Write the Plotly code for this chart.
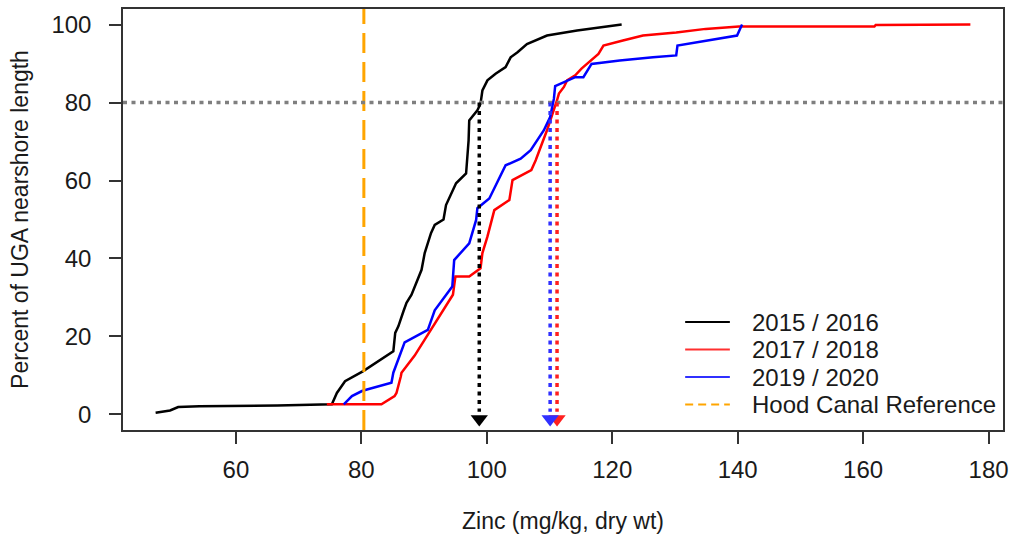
import plotly.graph_objects as go

# ---- data ----
x_1516 = [47.2, 49.5, 50.8, 54.2, 66.6, 75.3, 76.1, 77.4, 80.3, 81.6, 85.1, 85.4, 85.9, 86.7, 87.2,
          88.0, 88.8, 89.6, 90.1, 90.6, 91.1, 91.7, 93.1, 93.5, 95.1, 96.7, 97.1, 97.2, 98.5, 99.0,
          99.3, 100.1, 101.4, 103.0, 103.8, 104.9, 106.4, 109.6, 111.2, 113.3, 114.4, 121.5]
y_1516 = [0.4, 1.0, 1.9, 2.1, 2.3, 2.6, 5.5, 8.5, 11.1, 12.5, 16.2, 20.9, 22.6, 26.4, 28.6,
          30.7, 33.7, 37.1, 41.4, 44.0, 46.5, 48.6, 50.0, 53.7, 59.3, 61.8, 70.3, 75.4, 78.0, 79.7,
          83.1, 85.7, 87.4, 89.1, 91.6, 92.9, 95.0, 97.2, 97.6, 98.3, 98.5, 100.0]

x_1718 = [74.5, 83.2, 85.3, 85.6, 86.3, 86.4, 88.5, 91.1, 93.3, 94.6, 95.0, 97.2, 99.0, 99.3, 100.1,
          101.2, 103.6, 104.1, 107.1, 107.8, 108.8, 109.6, 111.2, 111.5, 112.3, 112.8, 114.1, 115.1,
          117.8, 118.6, 121.7, 124.9, 130.2, 134.9, 140.2, 161.8, 162.0, 177.1]
y_1718 = [2.6, 2.6, 4.7, 5.5, 9.8, 10.7, 15.1, 21.7, 27.3, 30.7, 35.4, 35.4, 37.5, 41.4, 45.6,
          52.4, 55.0, 60.1, 62.7, 65.2, 69.5, 72.9, 80.6, 82.3, 84.0, 85.7, 87.0, 88.7,
          92.5, 94.6, 95.9, 97.2, 98.0, 98.9, 99.5, 99.5, 99.9, 100.0]

x_1920 = [77.2, 78.5, 80.1, 80.9, 84.8, 85.1, 86.9, 90.6, 91.7, 94.5, 94.8, 97.2, 98.3, 98.5, 100.4,
          103.0, 105.4, 107.0, 109.1, 110.1, 110.7, 110.9, 114.1, 115.4, 116.7, 121.2, 126.5, 130.2,
          130.4, 135.4, 139.9, 140.7]
y_1920 = [2.6, 4.7, 6.0, 6.4, 8.1, 10.7, 18.5, 21.7, 26.7, 32.8, 39.6, 43.9, 49.9, 52.9, 55.4,
          63.9, 65.6, 67.8, 72.9, 76.3, 81.0, 84.2, 86.5, 86.5, 89.9, 90.8, 91.6, 92.1,
          94.6, 95.9, 97.2, 100.0]

series_names = ["2015 / 2016", "2017 / 2018", "2019 / 2020"]
series_colors = ["#000000", "#FF0000", "#0000FF"]
legend_labels = series_names + ["Hood Canal Reference"]
legend_colors = ["#000000", "#FF3030", "#3030FF", "#FFA500"]

hood_canal_ref = 80.4          # Hood Canal reference value (mg/kg)
target_pct = 80                # 80th percentile line
pct80_values = [98.8, 111.2, 110.1]   # zinc at 80% for each period
arrow_colors = ["#000000", "#FF2020", "#3030FF"]

x_ticks = [60, 80, 100, 120, 140, 160, 180]
y_ticks = [0, 20, 40, 60, 80, 100]
x_range = [42.0, 182.3]
y_range = [-4, 104]

FONT = "Liberation Sans, Arial, sans-serif"
TXT = "#1a1a1a"

W, H = 1013, 543
ML, MR, MT, MB = 123, 4, 9, 113
PW, PH = W - ML - MR, H - MT - MB


def px_to_paper_x(px):
    return (px - ML) / PW


def px_to_paper_y(py):
    return (H - MB - py) / PH


fig = go.Figure()

for xs, ys, name, col in zip([x_1516, x_1718, x_1920], [y_1516, y_1718, y_1920],
                             series_names, series_colors):
    fig.add_trace(go.Scatter(x=xs, y=ys, mode="lines", name=name, showlegend=False,
                             line=dict(color=col, width=2.5)))

fig.add_trace(go.Scatter(x=[hood_canal_ref, hood_canal_ref], y=y_range, mode="lines",
                         name="Hood Canal Reference", showlegend=False,
                         line=dict(color="#FFA500", width=3, dash="20px,9px")))

fig.add_trace(go.Scatter(x=x_range, y=[target_pct, target_pct], mode="lines", showlegend=False,
                         line=dict(color="#7F7F7F", width=3.5, dash="4px,4.5px")))

for xv, col in zip(pct80_values, arrow_colors):
    fig.add_trace(go.Scatter(x=[xv, xv], y=[target_pct, 0.7], mode="lines", showlegend=False,
                             line=dict(color=col, width=3.5, dash="4px,4.5px")))
    fig.add_trace(go.Scatter(x=[xv], y=[-1.2], mode="markers", showlegend=False,
                             marker=dict(symbol="triangle-down", size=15, color=col,
                                         line=dict(width=0)),
                             cliponaxis=False))

# ---- legend (drawn as line samples + text, R style, no box) ----
legend_rows_px = [322, 349.5, 377, 404.5]
for i, (lab, col) in enumerate(zip(legend_labels, legend_colors)):
    yp = px_to_paper_y(legend_rows_px[i])
    fig.add_shape(type="line", xref="paper", yref="paper",
                  x0=px_to_paper_x(689), x1=px_to_paper_x(734), y0=yp, y1=yp,
                  line=dict(color=col, width=1.8, dash="8px,5px" if i == 3 else "solid"))
    fig.add_annotation(text=lab, xref="paper", yref="paper", x=px_to_paper_x(754), y=yp,
                       xanchor="left", yanchor="middle", showarrow=False,
                       font=dict(family=FONT, size=24, color=TXT))

axis_common = dict(showline=True, linecolor="#333333", linewidth=1.5, mirror=True,
                   ticks="outside", ticklen=12, tickwidth=1.5, tickcolor="#333333",
                   showgrid=False, zeroline=False,
                   tickfont=dict(family=FONT, size=24, color=TXT))

fig.update_layout(
    width=W, height=H,
    margin=dict(l=ML, r=MR, t=MT, b=MB),
    paper_bgcolor="white", plot_bgcolor="white",
    font=dict(family=FONT, size=22, color=TXT),
    xaxis=dict(range=x_range, tickvals=x_ticks, ticklabelstandoff=5,
               title=dict(text="Zinc (mg/kg, dry wt)", standoff=31,
                          font=dict(family=FONT, size=23, color=TXT)),
               **axis_common),
    yaxis=dict(range=y_range, tickvals=y_ticks, ticklabelstandoff=13,
               title=dict(text="Percent of UGA nearshore length", standoff=16,
                          font=dict(family=FONT, size=23, color=TXT)),
               **axis_common),
    showlegend=False,
)

fig.write_html("out.html", config={"displayModeBar": False},
               post_script="document.body.style.margin='0px';")
